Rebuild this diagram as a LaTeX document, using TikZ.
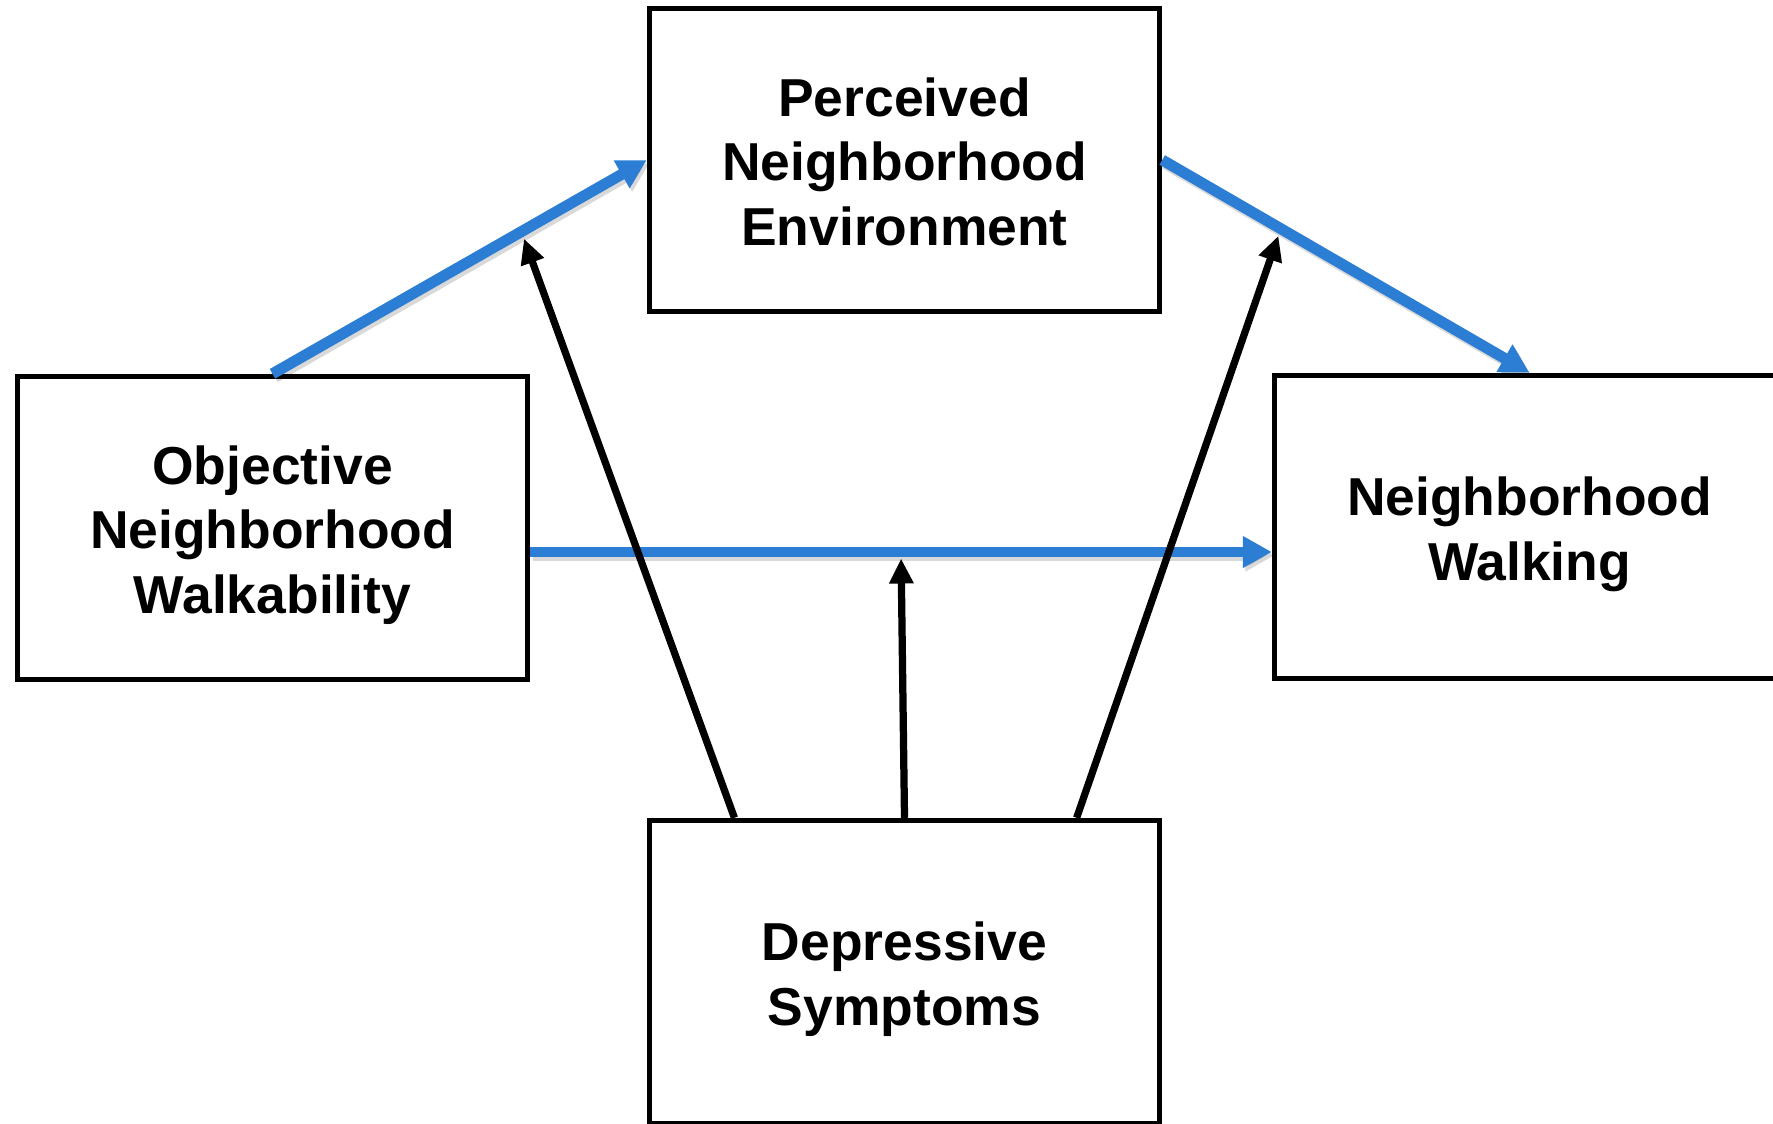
\documentclass[tikz,border=0pt]{standalone}
\usepackage{fontspec}
\setmainfont{Liberation Sans}
\usetikzlibrary{arrows.meta,calc}
\definecolor{arrowblue}{RGB}{43,126,212}
\newcommand{\boxtext}[1]{\raisebox{-0.16cm}[\height][\depth]{\begin{tabular}{@{}c@{}}#1\end{tabular}}}
\begin{document}
\begin{tikzpicture}[x=0.02cm,y=-0.02cm,
  box/.style={draw=black,line width=0.11cm,minimum width=10.2cm,minimum height=6.06cm,inner sep=0pt,
    font=\fontsize{30.4}{36.7}\selectfont\bfseries},
  bluearrow/.style={draw=arrowblue,line width=0.22cm,
    -{Triangle[length=0.58cm,width=0.6cm]},
    preaction={draw=black,opacity=0.15,line width=0.22cm,transform canvas={xshift=0.05cm,yshift=-0.07cm}}},
  blackarrow/.style={draw=black,line width=0.145cm,-{Triangle[length=0.5cm,width=0.46cm]}}]
\useasboundingbox (0,0) rectangle (1773,1124);
\node[box] (per) at (904.5,160) {\boxtext{Perceived\\Neighborhood\\Environment}};
\node[box] (obj) at (272.5,528) {\boxtext{Objective\\Neighborhood\\Walkability}};
\node[box] (walk) at (1529.5,527) {\boxtext{Neighborhood\\Walking}};
\node[box] (dep) at (904.5,972) {\boxtext{Depressive\\Symptoms}};
\coordinate (h1) at ($(obj.east)+(0,24)$);
\coordinate (h2) at ($(walk.west)+(0,25)$);
\draw[bluearrow] (obj.north) -- coordinate[pos=0.665] (m1) (per.west);
\draw[bluearrow] (per.east) -- coordinate[pos=0.323] (m2) (walk.north);
\draw[bluearrow] (h1) -- coordinate[pos=0.5] (m3) (h2);
\coordinate (d1) at ($(dep.north west)!0.17!(dep.north east)$);
\coordinate (d3) at ($(dep.north west)!0.834!(dep.north east)$);
\draw[blackarrow,shorten >=0.15cm] (d1) -- (m1);
\draw[blackarrow,shorten >=0.13cm] (dep.north) -- (m3);
\draw[blackarrow,shorten >=0.15cm] (d3) -- (m2);
\end{tikzpicture}
\end{document}
